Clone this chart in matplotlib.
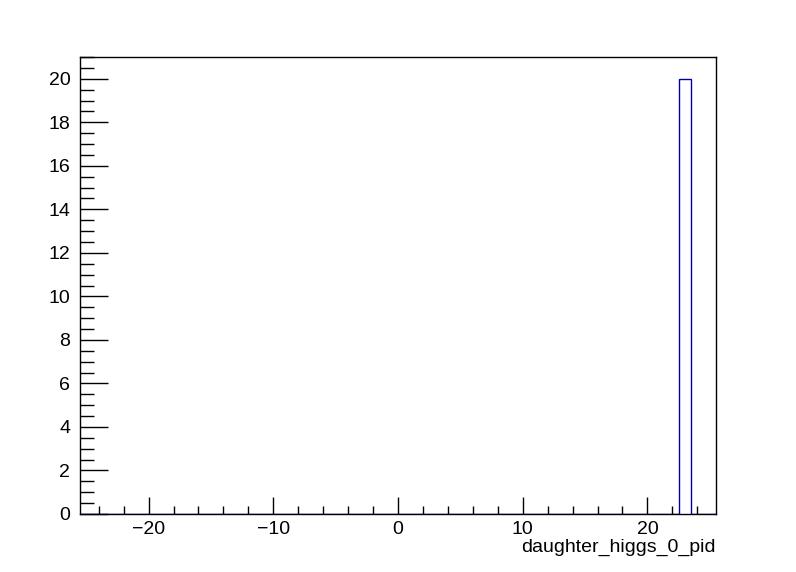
import numpy as np
import matplotlib
matplotlib.use("Agg")
import matplotlib.pyplot as plt
from matplotlib.ticker import MultipleLocator

plt.rcParams['font.family'] = ['Liberation Sans', 'DejaVu Sans']

# Data: 51 unit bins from -25.5 to 25.5, all entries in the bin centred at 23
bin_lo = -25.5
bin_hi = 25.5
n_bins = 51
filled_bin_centres = [23]
filled_bin_counts = [20]
x_label = "daughter_higgs_0_pid"

edges = np.linspace(bin_lo, bin_hi, n_bins + 1)
centres = 0.5 * (edges[:-1] + edges[1:])
counts = np.zeros(n_bins)
for c, v in zip(filled_bin_centres, filled_bin_counts):
    counts[np.argmin(np.abs(centres - c))] = v

fig = plt.figure(figsize=(7.96, 5.72), dpi=100)
ax = fig.add_axes([80/796, 1 - 514/572, (716-80)/796, (514-57)/572])

ax.stairs(counts, edges, color='#0000aa', linewidth=1.0)

ax.set_xlim(bin_lo, bin_hi)
ax.set_ylim(0, 1.05 * max(filled_bin_counts))

ax.xaxis.set_major_locator(MultipleLocator(10))
ax.xaxis.set_minor_locator(MultipleLocator(2))
ax.yaxis.set_major_locator(MultipleLocator(2))
ax.yaxis.set_minor_locator(MultipleLocator(0.5))

ax.tick_params(axis='x', which='major', direction='in', length=12, width=1, labelsize=14, pad=5, top=False)
ax.tick_params(axis='x', which='minor', direction='in', length=6, width=1, top=False)
ax.tick_params(axis='y', which='major', direction='in', length=20, width=1, labelsize=14, pad=7, right=False)
ax.tick_params(axis='y', which='minor', direction='in', length=10, width=1, right=False)

for s in ax.spines.values():
    s.set_linewidth(1)

fig.text(716/796, 1 - 547/572, x_label, ha='right', va='center', fontsize=14)

fig.savefig("out.png", dpi=100)
